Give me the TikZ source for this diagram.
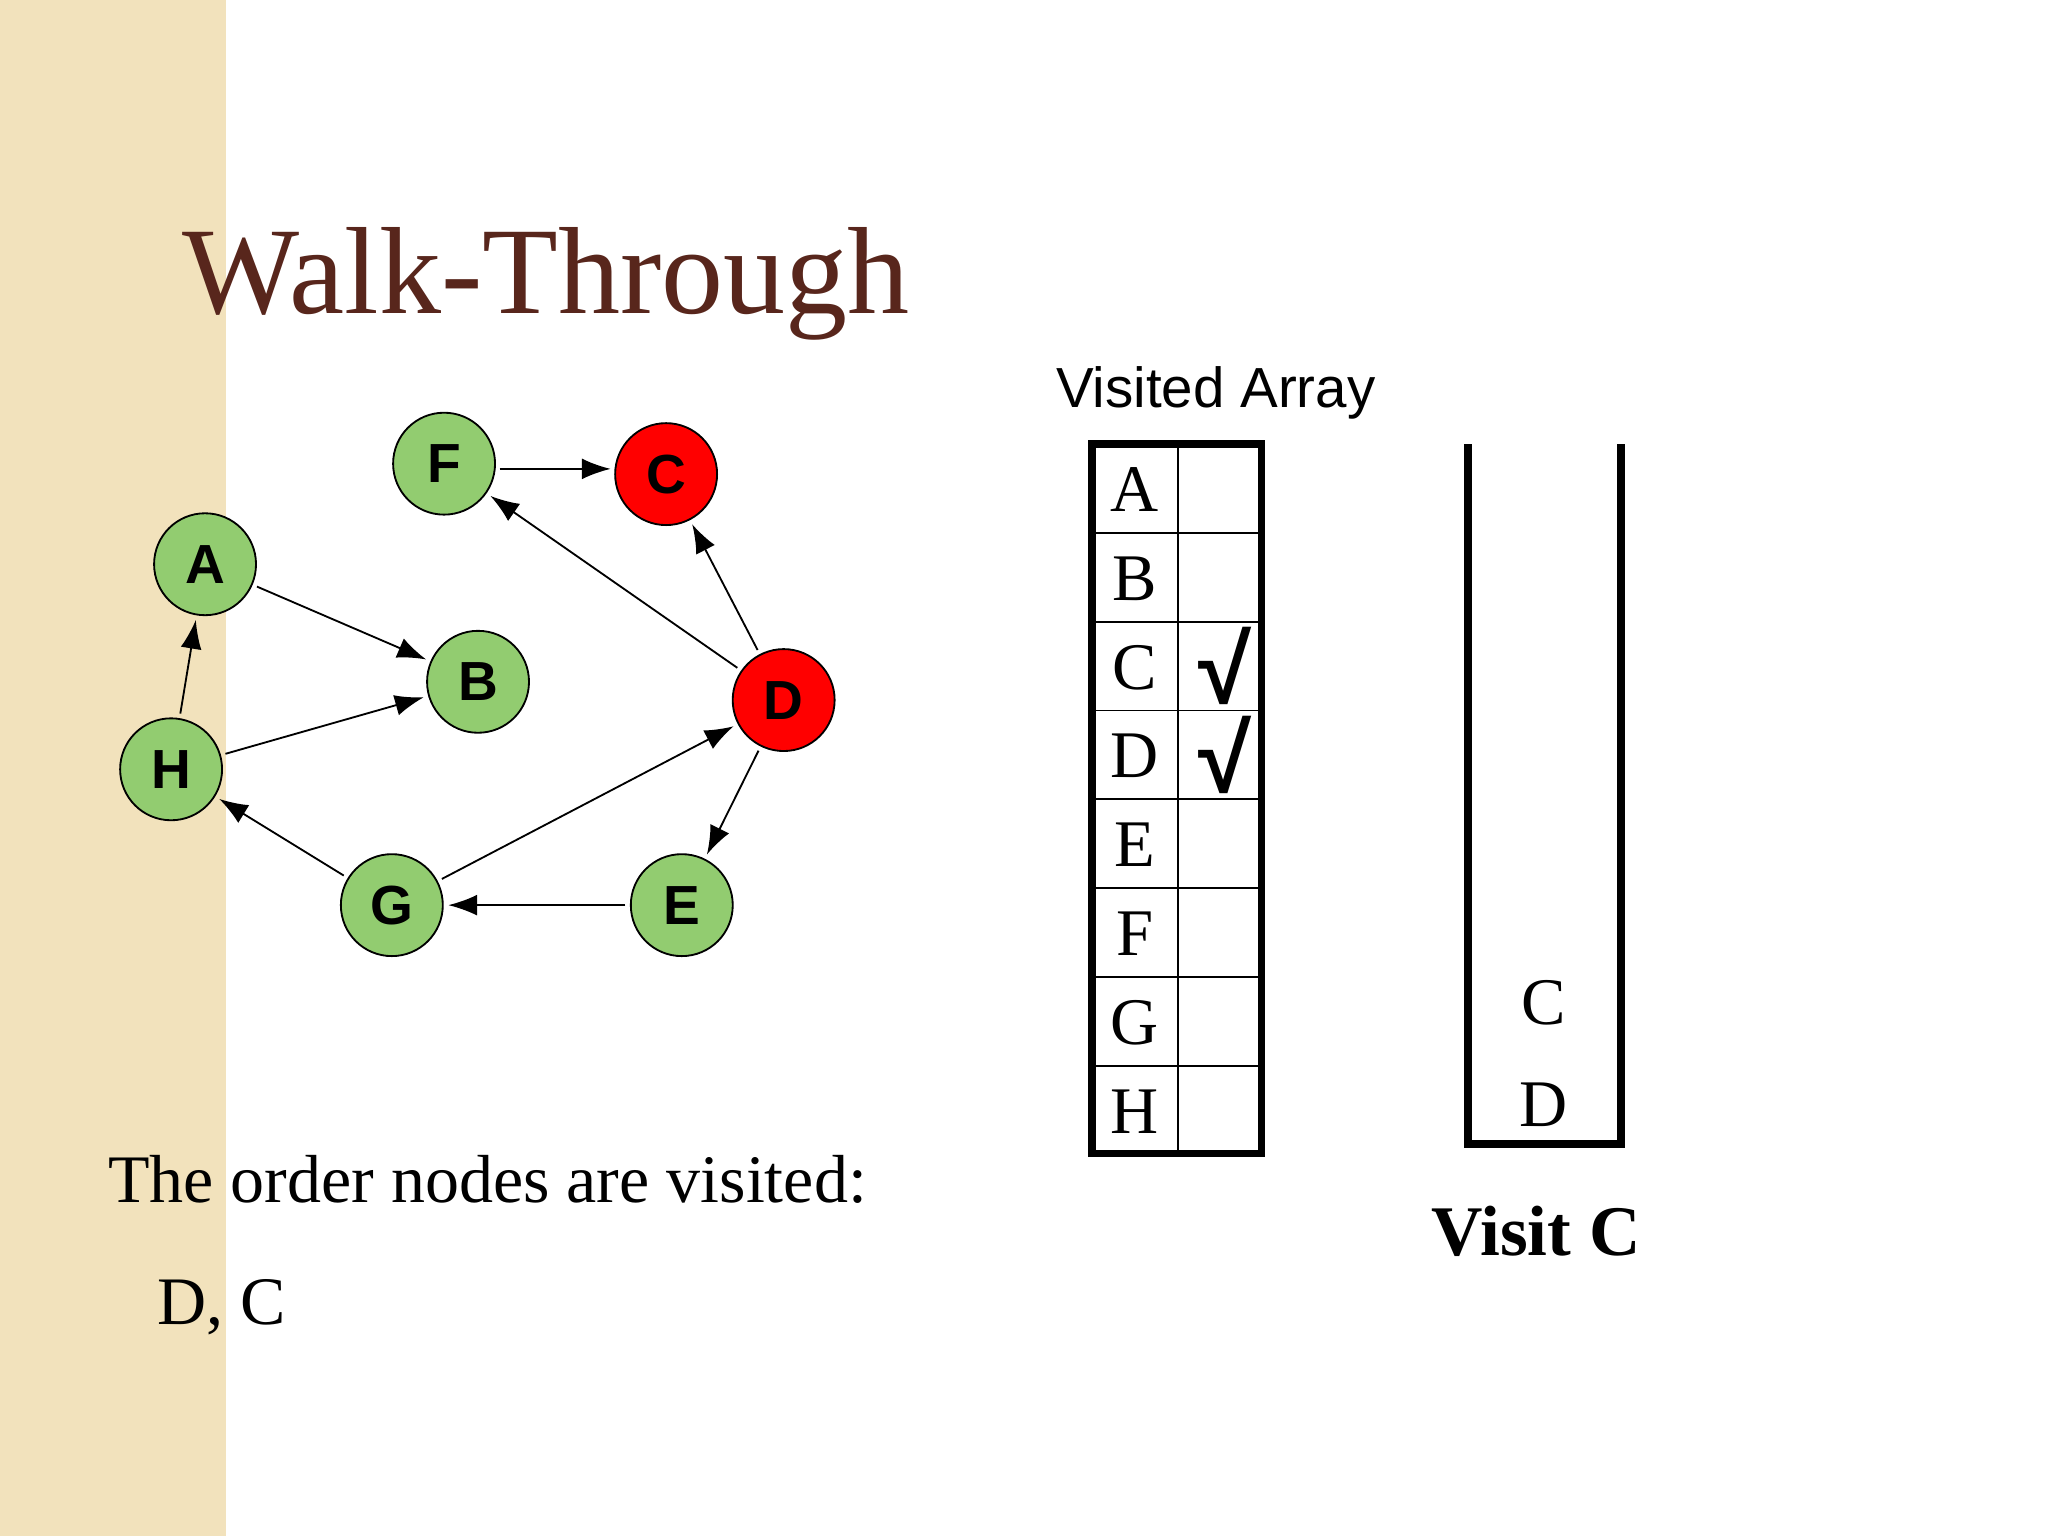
\documentclass[tikz,border=0pt]{standalone}
\usepackage{fontspec}
\setmainfont{Liberation Serif}
\newfontfamily\sansf{Liberation Sans}
\usetikzlibrary{arrows.meta}
\definecolor{strip}{RGB}{242,226,188}
\definecolor{ngreen}{RGB}{146,204,112}
\definecolor{title}{RGB}{88,38,28}
\tikzset{
 v/.style={circle,draw=black,thin,minimum size=0.78cm,inner sep=0pt,font=\sansf\bfseries\fontsize{12}{12}\selectfont},
 g/.style={v,fill=ngreen},
 r/.style={v,fill=red},
 e/.style={-{Latex[length=2.2mm,width=1.6mm]},thin,shorten >=1pt,shorten <=1pt},
 cell/.style={font=\fontsize{14.5}{14.5}\selectfont},
 chk/.style={font=\sansf\bfseries\fontsize{21}{21}\selectfont}
}
\begin{document}
\begin{tikzpicture}[x=0.01cm,y=-0.01cm]
\useasboundingbox (0,0) rectangle (1568,1176);
\fill[strip] (0,0) rectangle (173,1176);
\node[anchor=base west,inner sep=0,text=title,font=\fontsize{27}{27}\selectfont] (t) at (139,240) {Walk-Through};
\node[g] (F) at (340,355) {F};
\node[r] (C) at (510,363) {C};
\node[g] (A) at (157,432) {A};
\node[g] (B) at (366,522) {B};
\node[r] (D) at (600,536) {D};
\node[g] (H) at (131,589) {H};
\node[g] (G) at (300,693) {G};
\node[g] (E) at (522,693) {E};
\coordinate (fc) at (379,359);
\coordinate (cf) at (471,359);
\draw[e] (fc) -- (cf);
\draw[e] (D) -- (F);
\draw[e] (D) -- (C);
\draw[e] (A) -- (B);
\draw[e] (H) -- (A);
\draw[e] (H) -- (B);
\draw[e] (G) -- (H);
\draw[e] (G) -- (D);
\draw[e] (D) -- (E);
\draw[e] (E.west) -- (G.east);
\node[anchor=base west,inner sep=0,font=\sansf\fontsize{12.3}{12.3}\selectfont] (va) at (808,312) {Visited Array};
\draw[line width=1.6pt] (836,340) rectangle (966,883);
\draw[thin] (902,340) -- (902,883);
\foreach \l [count=\i] in {A,B,C,D,E,F,G,H}{
 \draw[thin] (836,{340+68*\i}) -- (966,{340+68*\i});
 \node[cell] (r\l) at (869,{375+68*(\i-1)}) {\l};
}
\node[chk] (cC) at (938,510) {√};
\node[chk] (cD) at (938,578) {√};
\draw[line width=1.6pt] (1124,340) -- (1124,876) -- (1241,876) -- (1241,340);
\node[cell] (sC) at (1182,768) {C};
\node[cell] (sD) at (1182,846) {D};
\node[font=\bfseries\fontsize{15.5}{15.5}\selectfont] (vc) at (1176,943) {Visit C};
\node[anchor=base west,inner sep=0,font=\fontsize{14.8}{14.8}\selectfont] (o) at (82,921) {The order nodes are visited:};
\node[anchor=base west,inner sep=0,font=\fontsize{14.8}{14.8}\selectfont] (dc) at (120,1014) {D, C};
\end{tikzpicture}
\end{document}
